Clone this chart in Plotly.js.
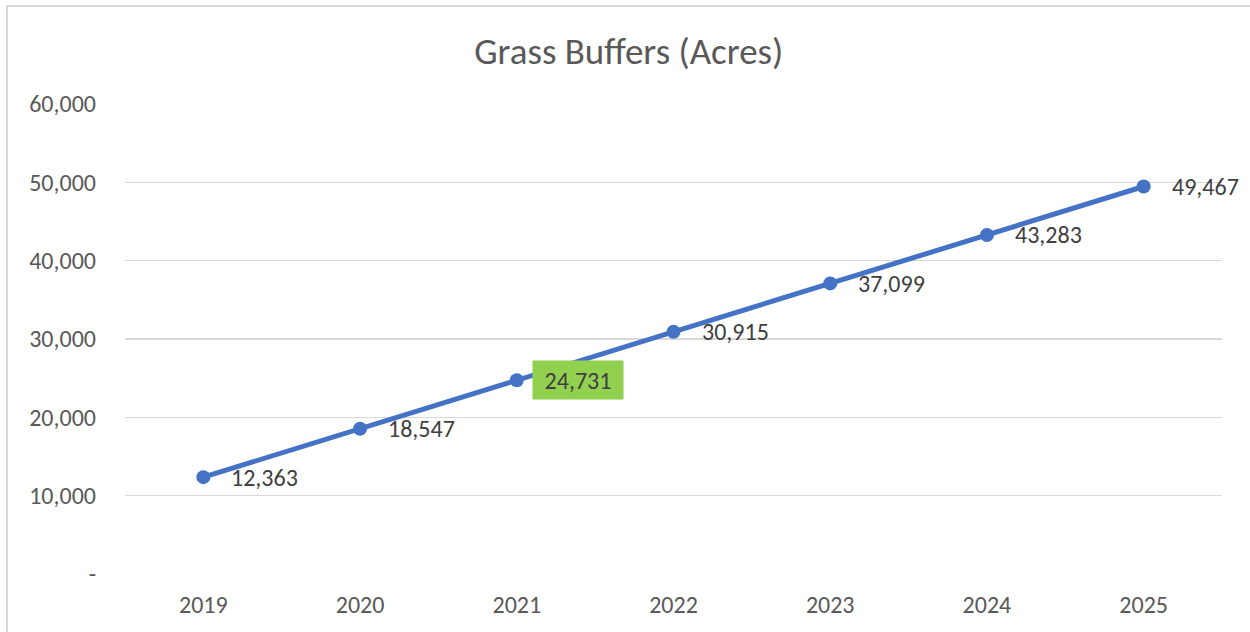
<!DOCTYPE html>
<html>
<head>
<meta charset="utf-8">
<script src="https://cdn.plot.ly/plotly-3.0.1.min.js"></script>
<style>
html,body{margin:0;padding:0;background:#fff;overflow:hidden;}
#frame{position:absolute;left:6px;top:5px;width:1260px;height:640px;border:2px solid #d9d9d9;box-sizing:border-box;}
#chart{position:absolute;left:0;top:0;width:1250px;height:632px;}
</style>
</head>
<body>
<div id="frame"></div>
<div id="chart"></div>
<script>
const years = ['2019','2020','2021','2022','2023','2024','2025'];
const acres = [12363, 18547, 24731, 30915, 37099, 43283, 49467];
const yTickVals = [0, 10000, 20000, 30000, 40000, 50000, 60000];
const yTickText = ['-', '10,000', '20,000', '30,000', '40,000', '50,000', '60,000'];
const highlightYear = '2021';

const fontFam = 'Carlito, Calibri, sans-serif';
const txtColor = '#595959';

function fmt(v) { return String(v).replace(/\B(?=(\d{3})+(?!\d))/g, ','); }

const annotations = years.map(function (yr, i) {
  const hl = yr === highlightYear;
  const a = {
    x: i, y: acres[i], xref: 'x', yref: 'y',
    text: fmt(acres[i]),
    showarrow: false, xanchor: 'left', yanchor: 'middle',
    xshift: hl ? 15 : 27, yshift: hl ? 0 : 0,
    font: {family: fontFam, size: 24, color: '#404040'},
    bgcolor: hl ? '#92D050' : 'rgba(255,255,255,0)',
    borderpad: hl ? 4 : 0
  };
  if (hl) { a.width = 82; a.height = 30; }
  return a;
});

const trace = {
  x: years, y: acres, type: 'scatter', mode: 'lines+markers',
  line: {color: '#4472C4', width: 5},
  marker: {color: '#4472C4', size: 14},
  hoverinfo: 'skip'
};

const layout = {
  width: 1250, height: 632,
  margin: {l: 125, r: 28, t: 104, b: 58},
  paper_bgcolor: 'rgba(0,0,0,0)', plot_bgcolor: 'rgba(0,0,0,0)',
  showlegend: false,
  title: {text: 'Grass Buffers (Acres)', x: 0.503, xref: 'container', xanchor: 'center',
          y: 0.92, yref: 'container', yanchor: 'middle',
          font: {family: fontFam, size: 37, color: txtColor}},
  xaxis: {type: 'category', range: [-0.5, 6.5], showgrid: false, zeroline: false,
          showline: false, ticks: '', ticklabelstandoff: 14,
          tickfont: {family: fontFam, size: 24, color: txtColor}},
  yaxis: {range: [0, 60000], tickvals: yTickVals, ticktext: yTickText,
          showgrid: true, gridcolor: '#d9d9d9', gridwidth: 1.5,
          zeroline: false, showline: false, ticks: '', ticklabelstandoff: 28,
          tickfont: {family: fontFam, size: 24, color: txtColor}},
  annotations: annotations
};

Plotly.newPlot('chart', [trace], layout, {displayModeBar: false, staticPlot: true});
</script>
</body>
</html>
